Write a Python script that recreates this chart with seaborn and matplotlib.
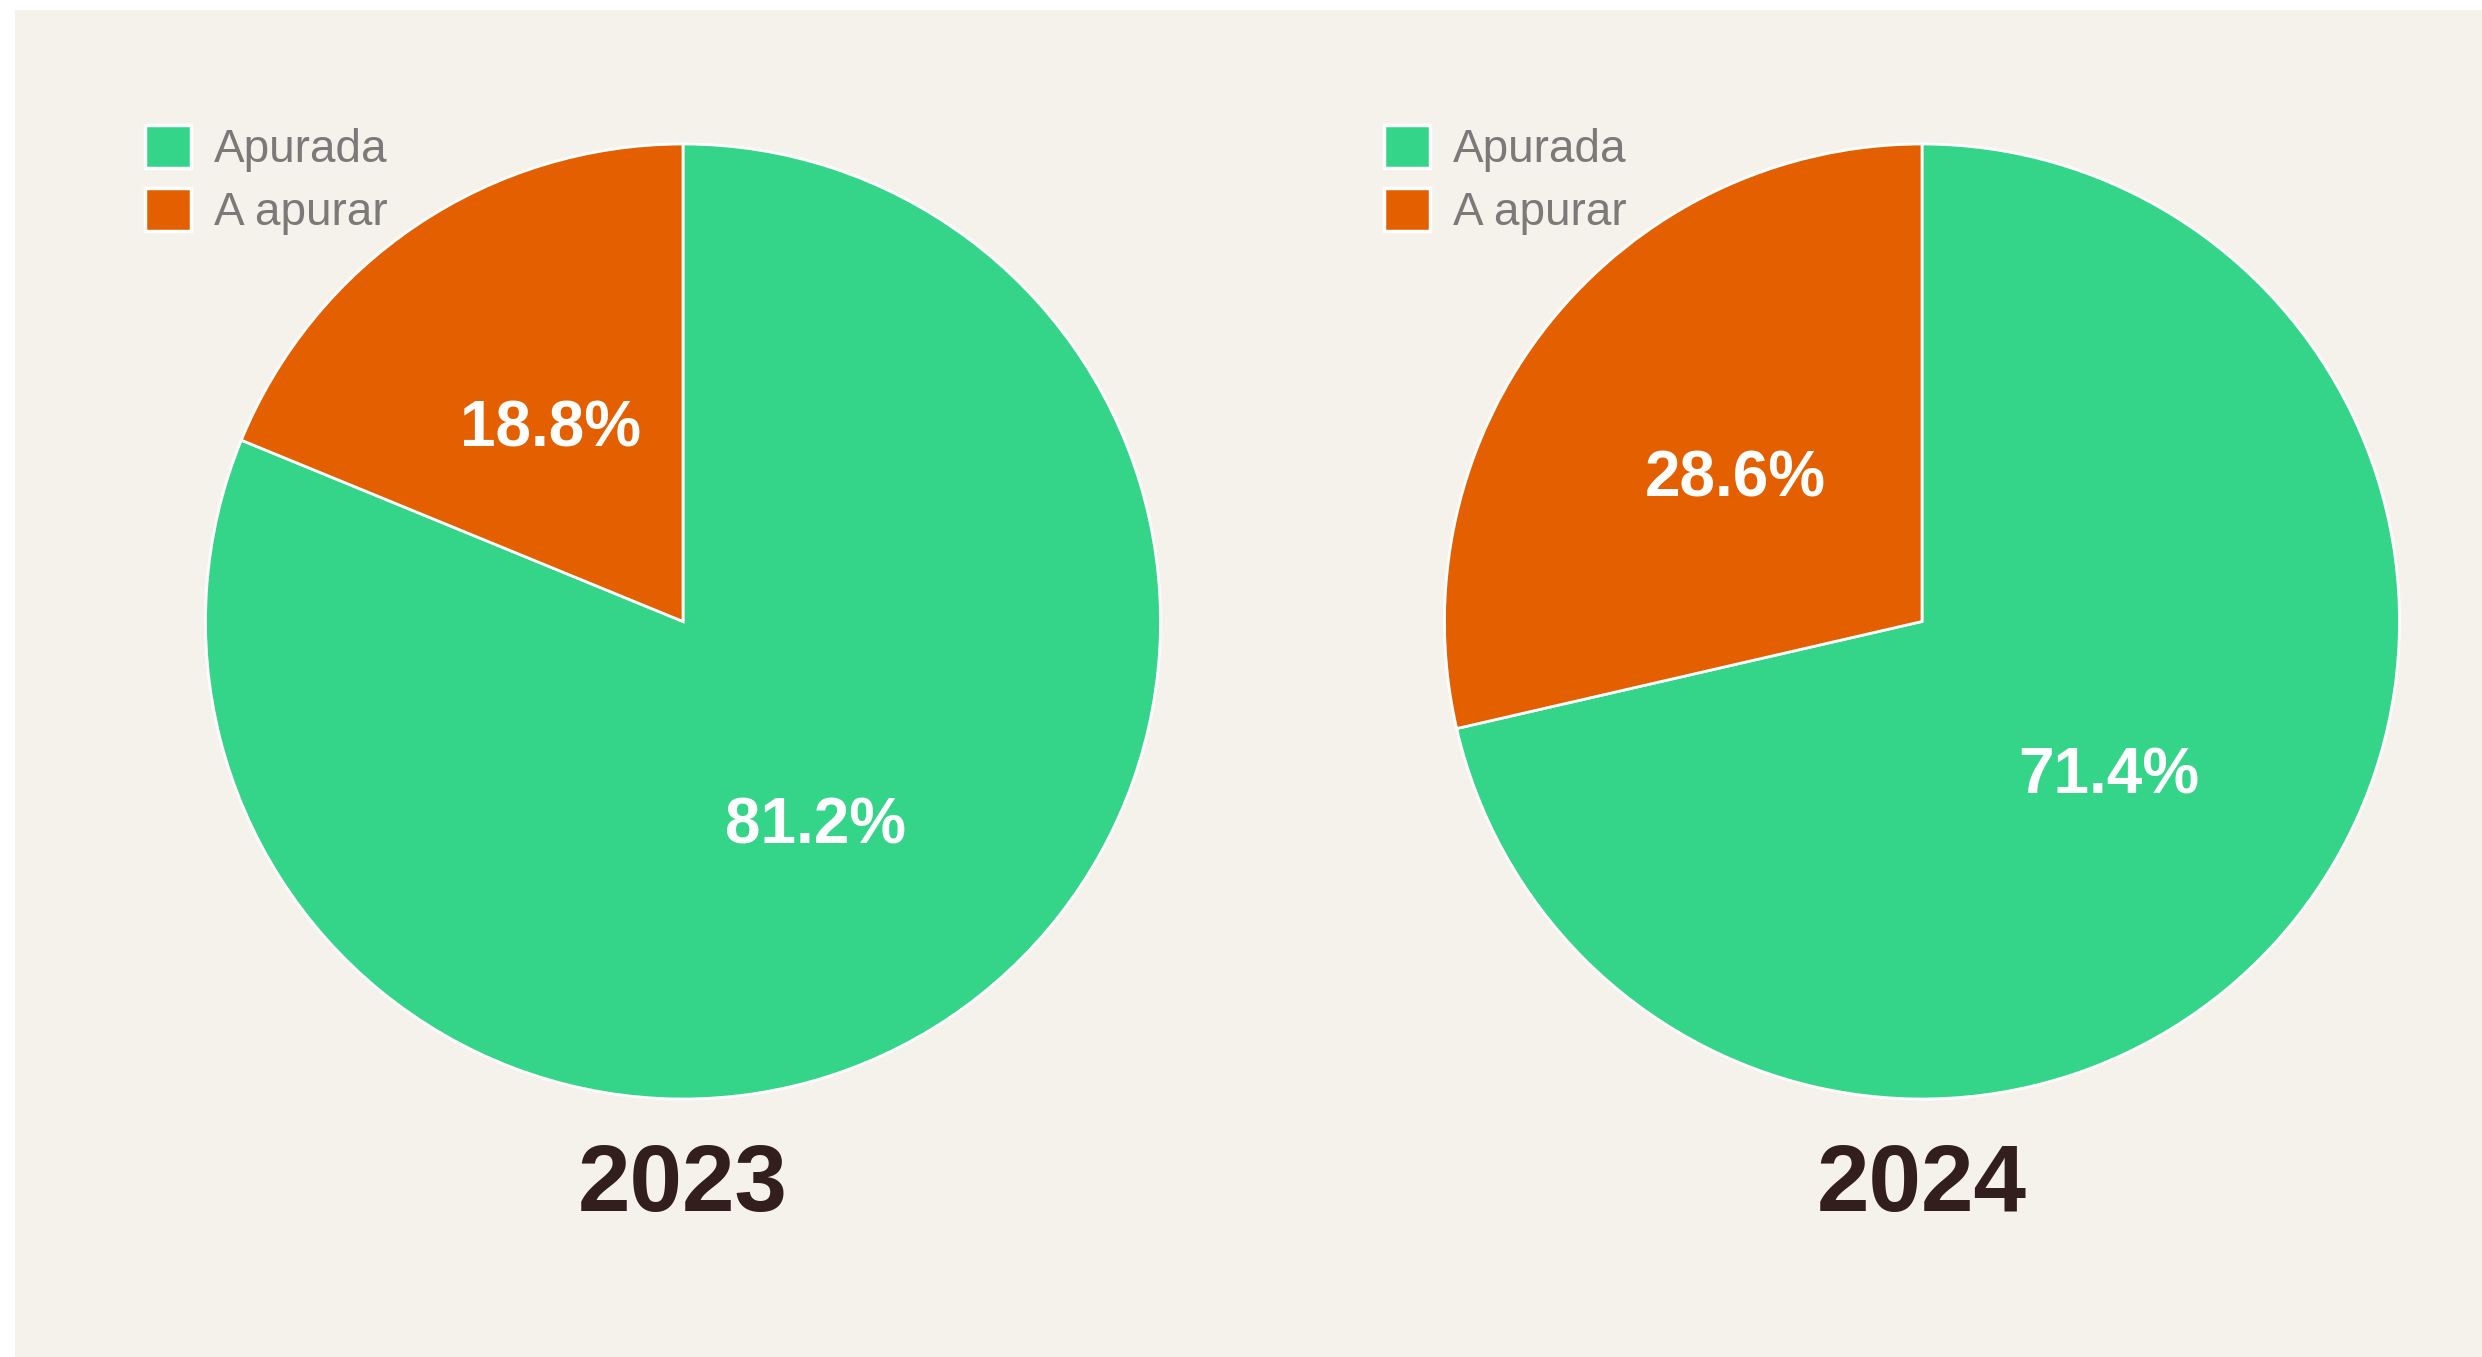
import matplotlib
matplotlib.use("Agg")
import matplotlib.pyplot as plt
from matplotlib.patches import Rectangle, Patch
import seaborn as sns

# ---- data ----
years = ["2023", "2024"]
categories = ["Apurada", "A apurar"]
apurada = [81.2, 71.4]
a_apurar = [18.8, 28.6]

# ---- style ----
sns.set_theme(style="white")
plt.rcParams["font.family"] = ["Liberation Sans", "DejaVu Sans"]
BG = "#F5F2EC"
palette = sns.color_palette(["#34D489", "#E35F00"])

W, H = 2482, 1357
DPI = 100
fig = plt.figure(figsize=(W / DPI, H / DPI), dpi=DPI)
fig.patch.set_facecolor("white")
fig.patches.append(Rectangle((15 / W, 0), 1 - 15 / W, 1 - 10 / H,
                             transform=fig.transFigure, facecolor=BG,
                             edgecolor="none", zorder=-10))

centers_x = [683, 1922]
cy = 621.5
r = 477.5

for i, year in enumerate(years):
    cx = centers_x[i]
    ax = fig.add_axes([(cx - r) / W, (H - cy - r) / H, 2 * r / W, 2 * r / H])
    ax.set_facecolor("none")
    vals = [apurada[i], a_apurar[i]]
    wedges, texts, autotexts = ax.pie(
        vals, colors=palette, startangle=90, counterclock=False,
        autopct="%1.1f%%", pctdistance=0.5,
        wedgeprops=dict(edgecolor="white", linewidth=2),
        textprops=dict(color="white", fontsize=46, fontweight="bold"))
    for t in autotexts:
        x, y = t.get_position()
        t.set_position((x, y - 0.013))
    ax.set_xlim(-1, 1)
    ax.set_ylim(-1, 1)
    ax.set_aspect("equal")
    ax.axis("off")

    handles = [Patch(facecolor=palette[k], edgecolor="white", linewidth=2.5,
                     label=categories[k]) for k in range(2)]
    leg = ax.legend(handles=handles, loc="upper left",
                    bbox_to_anchor=((cx - 538) / W, 1 - 125 / H),
                    bbox_transform=fig.transFigure, frameon=False,
                    fontsize=33, handlelength=1.0, handleheight=1.05,
                    handletextpad=0.5, labelspacing=0.36, borderpad=0,
                    borderaxespad=0)
    for t in leg.get_texts():
        t.set_color("#7E7979")

    fig.text(cx / W, 1 - 1187 / H, year, ha="center", va="center",
             fontsize=68, fontweight="bold", color="#331E1E")

fig.savefig("out.png", dpi=DPI, facecolor=fig.get_facecolor())
